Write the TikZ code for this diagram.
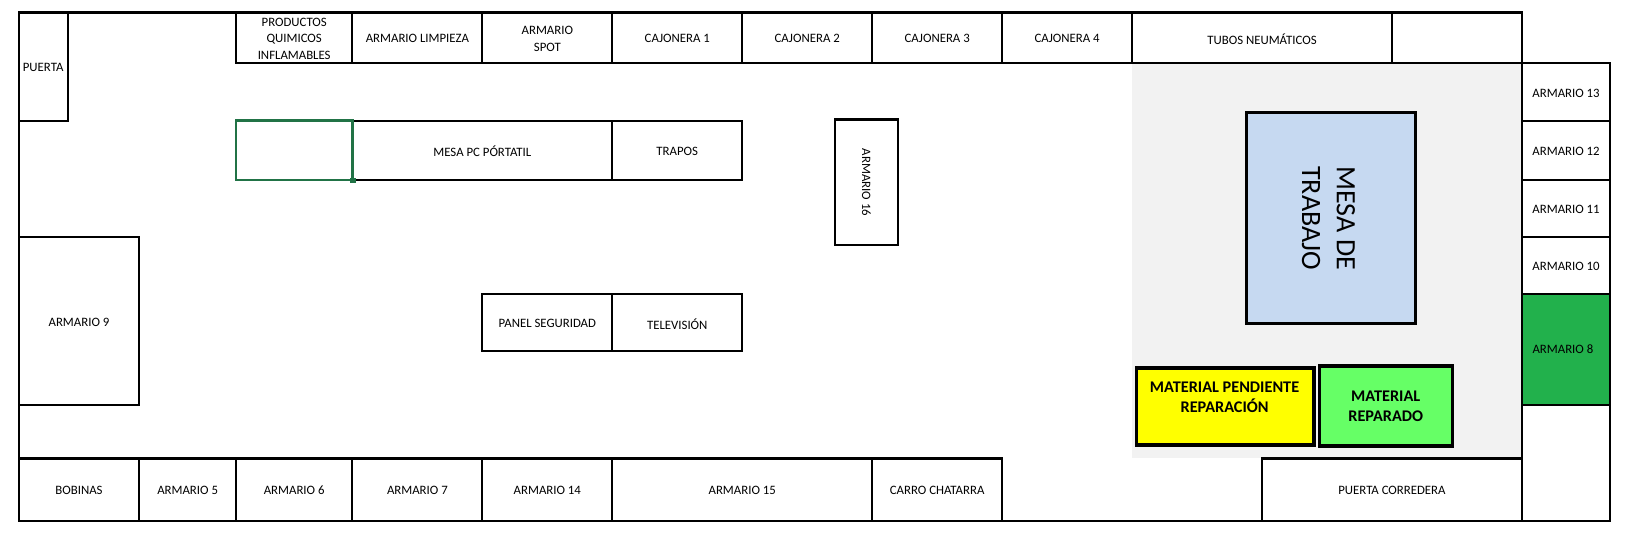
\documentclass[tikz,border=0pt]{standalone}
\usepackage{fontspec}
\setmainfont{Carlito}
\definecolor{wall}{HTML}{000000}
\definecolor{areagrey}{HTML}{F2F2F2}
\definecolor{armgreen}{HTML}{22B14C}
\definecolor{mesablue}{HTML}{C6D9F1}
\definecolor{matyellow}{HTML}{FFFF00}
\definecolor{matgreen}{HTML}{66FF66}
\definecolor{selgreen}{HTML}{217346}
\tikzset{
  cellbox/.style={draw=wall,line width=1.6pt,inner sep=0pt,outer sep=0pt},
  heavybox/.style={cellbox,line width=2.4pt},
  selbox/.style={cellbox,draw=selgreen,line width=1.8pt},
  celltext/.style={inner sep=0pt,align=center,font=\fontsize{9.6}{12.5}\selectfont,text=black},
  boldtext/.style={celltext,font=\fontsize{12.2}{14.8}\selectfont\bfseries},
  bigtext/.style={celltext,font=\fontsize{21}{26}\selectfont,rotate=-90},
  wallline/.style={draw=wall,line width=1.6pt,line cap=rect},
}
% [box options]{name}{x0}{y0}{x1}{y1}{text}
\newcommand{\cell}[7][]{%
  \pgfmathsetmacro{\cw}{#5-(#3)}%
  \pgfmathsetmacro{\ch}{#6-(#4)}%
  \node[cellbox,minimum width=\cw*0.7797pt,minimum height=\ch*0.7797pt,#1]
    (#2) at ({(#3+#5)/2},{(#4+#6)/2}) {};%
  \node[celltext,yshift=-0.7pt] (#2t) at (#2.center) {#7};%
}
\begin{document}
\begin{tikzpicture}[x=0.7797pt,y=-0.7797pt]
\useasboundingbox (0,0) rectangle (1568,519.45);
% grey work area
\fill[areagrey] (1089,61) rectangle (1464,441);
% top row
\cell{puerta}{18}{12}{65}{116}{PUERTA}
\cell{prod}{227}{12}{339}{61}{PRODUCTOS\\QUIMICOS\\INFLAMABLES}
\cell{limp}{339}{12}{464}{61}{ARMARIO LIMPIEZA}
\cell{spot}{464}{12}{589}{61}{ARMARIO\\SPOT}
\cell{caj1}{589}{12}{714}{61}{CAJONERA 1}
\cell{caj2}{714}{12}{839}{61}{CAJONERA 2}
\cell{caj3}{839}{12}{964}{61}{CAJONERA 3}
\cell{caj4}{964}{12}{1089}{61}{CAJONERA 4}
\cell{tubos}{1089}{12}{1339}{61}{TUBOS NEUMÁTICOS}
\cell{vacio}{1339}{12}{1464}{61}{}
% right column
\cell{a13}{1464}{61}{1549}{116}{ARMARIO 13}
\cell{a12}{1464}{116}{1549}{173}{ARMARIO 12}
\cell{a11}{1464}{173}{1549}{228}{ARMARIO 11}
\cell{a10}{1464}{228}{1549}{283}{ARMARIO 10}
\cell[fill=armgreen]{a8}{1464}{283}{1549}{390}{}
\node[celltext,anchor=west] (a8label) at (1474,335.5) {ARMARIO 8};
\cell{rvacio}{1464}{390}{1549}{501}{}
% middle
\cell{mesapc}{339}{116}{589}{173}{MESA PC PÓRTATIL}
\cell{trapos}{589}{116}{714}{173}{TRAPOS}
\cell{a16}{803}{115}{864}{236}{}
\node[celltext,rotate=-90] (a16label) at (833.5,175.5) {ARMARIO 16};
\cell{a9}{18}{228}{134}{390}{ARMARIO 9}
\cell{panel}{464}{283}{589}{338}{PANEL SEGURIDAD}
\cell{tv}{589}{283}{714}{338}{TELEVISIÓN}
% bottom row
\cell{bob}{18}{441}{134}{501}{BOBINAS}
\cell{a5}{134}{441}{227}{501}{ARMARIO 5}
\cell{a6}{227}{441}{339}{501}{ARMARIO 6}
\cell{a7}{339}{441}{464}{501}{ARMARIO 7}
\cell{a14}{464}{441}{589}{501}{ARMARIO 14}
\cell{a15}{589}{441}{839}{501}{ARMARIO 15}
\cell{carro}{839}{441}{964}{501}{CARRO CHATARRA}
\cell{corr}{1214}{441}{1464}{501}{PUERTA CORREDERA}
% walls
\draw[wallline] (18,501) -- (18,12) -- (1464,12);
\draw[wallline] (18,501) -- (1549,501);
% work area furniture
\cell[heavybox,fill=mesablue]{mesa}{1199}{108}{1362}{311}{}
\node[bigtext] (mesalabel) at (1278,210) {MESA DE\\TRABAJO};
\cell[heavybox,fill=matyellow]{pend}{1093}{354}{1264}{428}{}
\node[boldtext] (pendlabel) at (1178,382.5) {MATERIAL PENDIENTE\\REPARACIÓN};
\cell[heavybox,fill=matgreen]{rep}{1269}{352}{1397}{429}{}
\node[boldtext] (replabel) at (1333,391) {MATERIAL\\REPARADO};
% selected cell
\cell[selbox]{sel}{227}{116}{339}{173}{}
\fill[selgreen] (337,171) rectangle (342,176);
\end{tikzpicture}
\end{document}
